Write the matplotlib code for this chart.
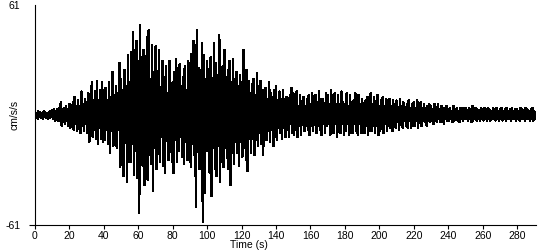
"""Strong-motion accelerogram (cm/s/s vs time) redrawn as out.png."""

import matplotlib
matplotlib.use("Agg")
import matplotlib.pyplot as plt
import numpy as np

plt.rcParams["font.family"] = ["Liberation Sans", "DejaVu Sans"]

# positive swing near t = i s, negative swing near t = i + 0.5 s
PEAK_HI = [
    1.5, 1, 2, 1.5, 1, 2, 1.5, 1, 1.5, 2,
    2.5, 3, 2, 3.5, 4, 7, 3, 4, 5, 3.5,
    6, 4, 7, 10, 5, 8, 4, 13, 6, 9,
    7, 12, 6, 18, 8, 13, 19, 7, 14, 18,
    9, 15, 8, 18, 10, 24, 9, 16, 12, 29,
    20, 14, 25, 16, 33, 18, 35, 46, 22, 41,
    30, 50, 22, 36, 18, 43, 47, 20, 39, 24,
    38, 16, 36, 14, 30, 18, 27, 12, 30, 16,
    18, 24, 31, 14, 28, 16, 21, 27, 14, 30,
    20, 34, 41, 18, 47, 26, 16, 40, 33, 20,
    30, 18, 32, 20, 40, 29, 22, 44, 18, 27,
    36, 20, 25, 30, 18, 31, 20, 24, 16, 22,
    18, 36, 14, 25, 19, 12, 17, 20, 11, 23,
    10, 19, 14, 11, 15, 9, 18, 12, 10, 14,
    16, 8, 13, 7, 14, 9, 10, 6, 11, 15,
    12, 6, 13, 5, 11, 7, 10, 5, 9, 11,
    6, 12, 5, 11, 7, 13, 5, 9, 6, 12,
    11, 6, 14, 5, 12, 6, 11, 5, 13, 7,
    6, 12, 5, 11, 6, 8, 12, 5, 11, 6,
    9, 5, 8, 10, 5, 12, 6, 10, 5, 11,
    5, 8, 10, 5, 9, 6, 9, 5, 8, 4,
    8, 4, 9, 5, 7, 4, 6, 8, 4, 6,
    7, 4, 8, 3, 7, 4, 6, 3, 5, 6,
    5, 3, 6, 3, 6, 3, 5, 2, 4, 5,
    3, 4, 2, 5, 3, 4, 2, 4, 3, 4,
    4, 2, 4, 3, 5, 2, 4, 3, 2, 4,
    3, 4, 2, 4, 3, 2, 4, 3, 4, 2,
    3, 4, 2, 3, 4, 2, 3, 4, 2, 3,
    3, 2, 4, 3, 2, 4, 3, 2, 3, 4, 2,
]
PEAK_LO = [
    -1.5, -2, -1, -1.5, -2, -1, -1.5, -2, -1.5, -1,
    -2, -3, -2.5, -3.5, -3, -6, -4, -5, -3.5, -6,
    -7, -4, -8, -5, -9, -4, -10, -6, -9, -5,
    -10, -15, -6, -12, -8, -13, -16, -7, -13, -15,
    -14, -8, -16, -21, -9, -17, -10, -18, -8, -29,
    -18, -34, -14, -37, -22, -26, -16, -33, -20, -35,
    -54, -20, -28, -39, -16, -36, -22, -27, -42, -18,
    -30, -14, -26, -12, -28, -32, -14, -25, -16, -26,
    -32, -14, -26, -20, -12, -23, -27, -15, -25, -18,
    -29, -16, -22, -51, -18, -30, -15, -59, -43, -20,
    -16, -32, -45, -18, -30, -34, -17, -37, -22, -29,
    -18, -24, -30, -39, -16, -27, -15, -21, -28, -14,
    -23, -12, -25, -31, -13, -21, -12, -22, -14, -17,
    -10, -16, -22, -11, -14, -9, -15, -8, -17, -12,
    -14, -7, -10, -13, -6, -12, -8, -12, -5, -10,
    -11, -5, -12, -6, -11, -5, -9, -6, -8, -11,
    -6, -9, -5, -10, -6, -8, -11, -5, -10, -6,
    -5, -11, -6, -10, -5, -12, -6, -10, -5, -11,
    -9, -5, -11, -6, -10, -5, -9, -11, -5, -10,
    -5, -10, -6, -11, -5, -9, -6, -10, -5, -11,
    -9, -4, -10, -5, -9, -4, -7, -9, -4, -7,
    -4, -8, -5, -7, -3, -6, -7, -3, -7, -4,
    -6, -3, -7, -3, -6, -3, -4, -6, -3, -4,
    -3, -5, -3, -4, -2, -4, -3, -5, -2, -3,
    -3, -2, -4, -3, -2, -3, -4, -2, -3, -2,
    -2, -3, -2, -4, -3, -2, -3, -2, -3, -2,
    -3, -2, -3, -2, -3, -2, -2, -3, -2, -3,
    -2, -3, -2, -3, -2, -2, -3, -2, -2, -3,
    -2, -3, -2, -2, -3, -2, -2, -3, -2, -3, -2,
]
X_TICKS = list(range(0, 281, 20))
Y_LIM = 61


def main():
    hi = np.array(PEAK_HI, dtype=float)
    lo = np.array(PEAK_LO, dtype=float)
    t_hi = np.arange(len(hi), dtype=float)
    t = np.column_stack([t_hi, t_hi + 0.5]).ravel()
    acc = np.column_stack([hi, lo]).ravel()

    fig = plt.figure(figsize=(5.5, 2.5), dpi=100)
    ax = fig.add_axes([35 / 550, 0.10, 501 / 550, 0.88])
    ax.plot(t, acc, color="black", lw=1.1, antialiased=False)

    ax.set_xlim(0, 291)
    ax.set_ylim(-Y_LIM, Y_LIM)
    ax.set_xticks(X_TICKS)
    ax.set_yticks([-Y_LIM, Y_LIM], [str(-Y_LIM), str(Y_LIM)])
    ax.yaxis.get_major_ticks()[1].tick1line.set_visible(False)
    for s in ("top", "right"):
        ax.spines[s].set_visible(False)
    for s in ("left", "bottom"):
        ax.spines[s].set_linewidth(0.8)
    ax.tick_params(axis="x", length=3, width=0.8, pad=1.5, labelsize=7.5)
    ax.tick_params(axis="y", length=4.5, width=0.8, pad=6, labelsize=7.5)

    fig.text(249 / 550, 0.0, "Time (s)", ha="center", va="bottom", fontsize=7.5)
    fig.text(15 / 550, 1 - 115 / 250, "cm/s/s", rotation=90,
             ha="center", va="center", fontsize=7.5)

    fig.savefig("out.png", dpi=100)


if __name__ == "__main__":
    main()
